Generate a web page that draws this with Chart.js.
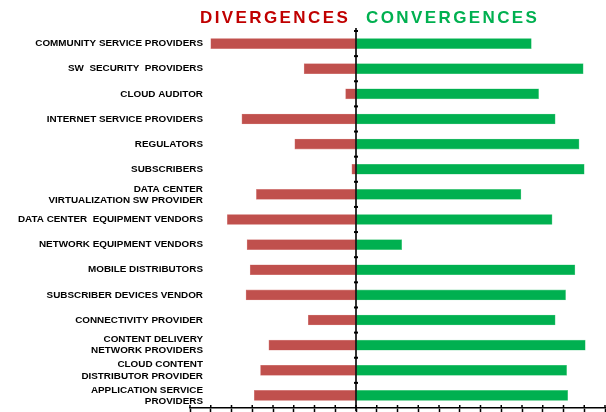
<!DOCTYPE html>
<html>
<head>
<meta charset="utf-8">
<script src="https://cdn.jsdelivr.net/npm/chart.js@4"></script>
<style>
  body { margin: 0; background: #fff; }
  #wrap { position: relative; width: 606px; height: 412px; }
  .head { position: absolute; top: 8px; font: bold 17px "Liberation Sans", Arial, sans-serif; letter-spacing: 2.4px; }
  #div { left: 200px; color: #c00000; }
  #conv { left: 366px; color: #00b050; }
</style>
</head>
<body>
<div id="wrap">
  <div class="head" id="div">DIVERGENCES</div>
  <div class="head" id="conv">CONVERGENCES</div>
  <canvas id="chart" width="606" height="412"></canvas>
</div>
<script>
// categories, top to bottom
const actors = [
  "COMMUNITY SERVICE PROVIDERS",
  "SW  SECURITY  PROVIDERS",
  "CLOUD AUDITOR",
  "INTERNET SERVICE PROVIDERS",
  "REGULATORS",
  "SUBSCRIBERS",
  ["DATA CENTER", "VIRTUALIZATION SW PROVIDER"],
  "DATA CENTER  EQUIPMENT VENDORS",
  "NETWORK EQUIPMENT VENDORS",
  "MOBILE DISTRIBUTORS",
  "SUBSCRIBER DEVICES VENDOR",
  "CONNECTIVITY PROVIDER",
  ["CONTENT DELIVERY", "NETWORK PROVIDERS"],
  ["CLOUD CONTENT", "DISTRIBUTOR PROVIDER"],
  ["APPLICATION SERVICE", "PROVIDERS"]
];
const divergences = [-7.0, -2.5, -0.5, -5.5, -2.95, -0.2, -4.8, -6.2, -5.25, -5.1, -5.3, -2.3, -4.2, -4.6, -4.9];
const convergences = [8.45, 10.95, 8.8, 9.6, 10.75, 11.0, 7.95, 9.45, 2.2, 10.55, 10.1, 9.6, 11.05, 10.15, 10.2];

const labelFont = { family: "'Liberation Sans', Arial, sans-serif", size: 9.9, weight: "bold", lineHeight: 1.12 };

// labels hang a bit into the plot (right edge ~13px past the axis start),
// so they are drawn mirrored and pushed back left by the widest label
const measure = document.createElement("canvas").getContext("2d");
measure.font = "bold 9.9px 'Liberation Sans', Arial, sans-serif";
const widest = Math.max(...actors.flat().map(s => measure.measureText(s).width));

// black zero line with little tick marks between categories, drawn over the bars
const zeroAxis = {
  id: "zeroAxis",
  afterDatasetsDraw(chart) {
    const { ctx, chartArea, scales } = chart;
    const x0 = scales.x.getPixelForValue(0);
    ctx.save();
    ctx.strokeStyle = "#000";
    ctx.lineWidth = 1.6;
    ctx.beginPath();
    ctx.moveTo(x0, chartArea.top - 3);
    ctx.lineTo(x0, chartArea.bottom + 3);
    ctx.stroke();
    ctx.lineWidth = 2;
    for (let i = 0; i < actors.length; i++) {
      const y = scales.y.getPixelForValue(i - 0.5);
      ctx.beginPath();
      ctx.moveTo(x0 - 2, y);
      ctx.lineTo(x0 + 2, y);
      ctx.stroke();
    }
    // bottom axis ticks cross the line
    ctx.lineWidth = 1.5;
    for (let v = -8; v <= 12; v++) {
      const x = scales.x.getPixelForValue(v);
      ctx.beginPath();
      ctx.moveTo(x, chartArea.bottom - 3);
      ctx.lineTo(x, chartArea.bottom);
      ctx.stroke();
    }
    ctx.restore();
  }
};

new Chart(document.getElementById("chart"), {
  type: "bar",
  data: {
    labels: actors,
    datasets: [
      {
        label: "Divergences",
        data: divergences,
        backgroundColor: "#c0504d",
        borderColor: "#d98a88",
        borderWidth: 0.6,
        borderSkipped: false
      },
      {
        label: "Convergences",
        data: convergences,
        backgroundColor: "#00b050",
        borderColor: "#5fd08e",
        borderWidth: 0.6,
        borderSkipped: false
      }
    ]
  },
  plugins: [zeroAxis],
  options: {
    indexAxis: "y",
    responsive: false,
    animation: false,
    layout: { padding: { top: 31, right: 1, left: 0, bottom: 0 } },
    datasets: { bar: { barThickness: 10 } },
    plugins: { legend: { display: false }, tooltip: { enabled: false } },
    scales: {
      x: {
        stacked: true,
        min: -8,
        max: 12,
        ticks: { stepSize: 1, display: false },
        grid: {
          drawOnChartArea: false,
          drawTicks: true,
          tickLength: 4,
          tickColor: "#000",
          tickWidth: 1.5
        },
        border: { color: "#000", width: 1.6 }
      },
      y: {
        stacked: true,
        grid: { display: false },
        border: { display: false },
        afterFit(scale) { scale.width = 190; },
        ticks: {
          autoSkip: false,
          mirror: true,
          crossAlign: "far",
          padding: 13 - widest,
          color: "#000",
          font: labelFont
        }
      }
    }
  }
});
</script>
</body>
</html>
